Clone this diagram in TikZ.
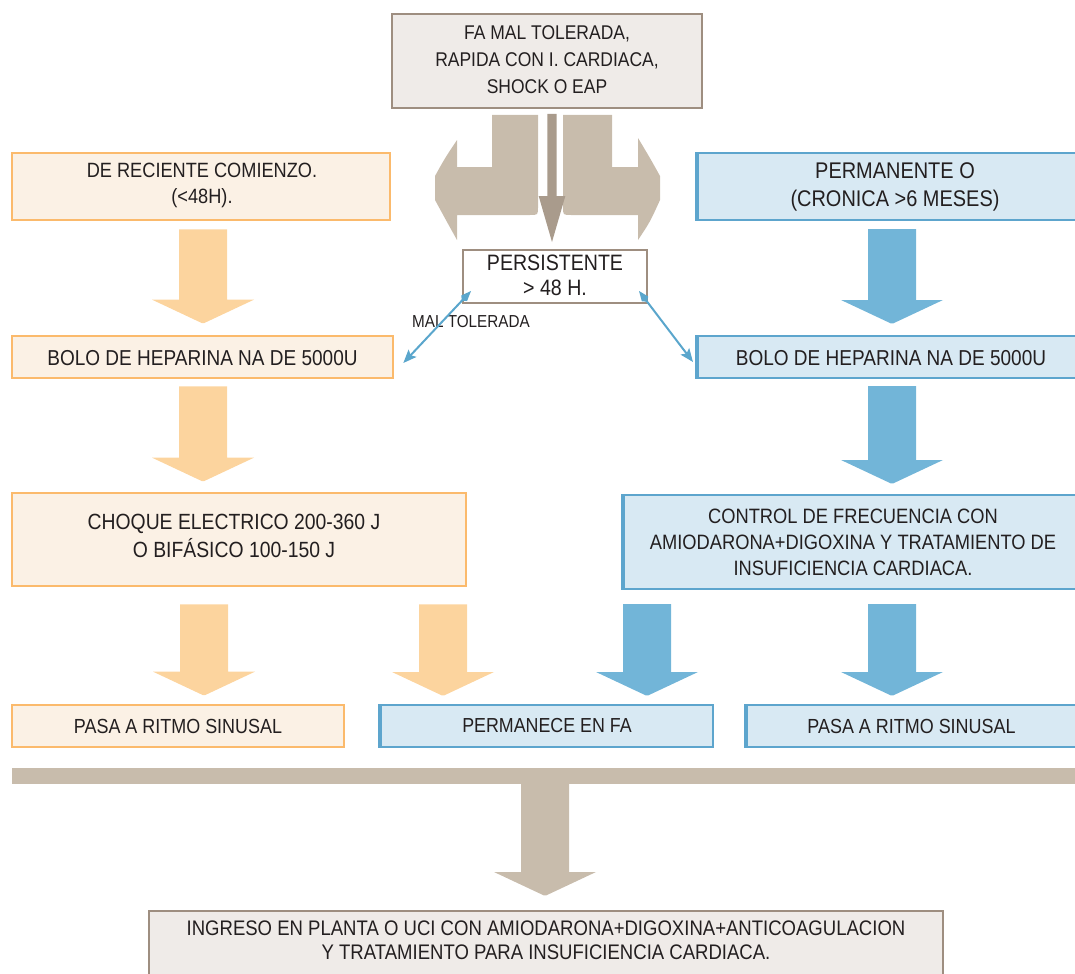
\documentclass[tikz,border=0pt]{standalone}
\usepackage{fontspec}
\setmainfont{Liberation Sans}[FakeStretch=0.88]
\usetikzlibrary{fit,calc,arrows.meta}

\definecolor{tanfill}{HTML}{EFEBE8}
\definecolor{tanline}{HTML}{9E8E80}
\definecolor{tanarrow}{HTML}{C8BCAC}
\definecolor{tandark}{HTML}{A99B8C}
\definecolor{orfill}{HTML}{FBF1E5}
\definecolor{orline}{HTML}{FBBA6C}
\definecolor{orarrow}{HTML}{FCD49E}
\definecolor{blfill}{HTML}{D8E9F3}
\definecolor{blline}{HTML}{5DA5CD}
\definecolor{blarrow}{HTML}{72B5D8}
\definecolor{thinblue}{HTML}{5AA6CC}
\definecolor{ink}{HTML}{231F20}

\newcommand\fs[2]{\fontsize{#1}{#2}\selectfont}

% Wide block arrow at x=#2 (px), from node anchor #3 down to node anchor #4,
% leaving gaps #5 (top) and #6 (tip).
\newcommand\bigarrow[6]{%
  \fill[#1] let \p0=(#2,0), \p1=(#3), \p2=(#4) in
    (\x0-18pt,\y1-#5) -- (\x0+18pt,\y1-#5) -- (\x0+18pt,\y2+#6+18pt)
    -- (\x0+38.25pt,\y2+#6+18pt) -- (\x0+1pt,\y2+#6+0.5pt) -- (\x0-1pt,\y2+#6+0.5pt)
    -- (\x0-38.25pt,\y2+#6+18pt) -- (\x0-18pt,\y2+#6+18pt) -- cycle;}

\begin{document}
\begin{tikzpicture}[x=0.75pt,y=-0.75pt,
  box/.style={inner sep=0pt},
  tanbox/.style={box, fill=tanfill, draw=tanline, line width=1.5pt},
  orbox/.style={box, fill=orfill, draw=orline, line width=2pt},
  blbox/.style={box, fill=blfill, draw=blline, line width=1.5pt},
  txt/.style={inner sep=0pt, align=center, text=ink},
  blleft/.style={draw=blline, line width=3pt},
  thinarrow/.style={draw=thinblue, line width=1.5pt,
    {Kite[length=10pt,width=6pt]}-{Stealth[length=10pt,width=8pt,inset=2pt]}}
]
\useasboundingbox (0,0) rectangle (1075,974);
\clip (0,0) rectangle (1075,974);

% ---- boxes ----
\node[tanbox, fit={(392,14) (702,108)}] (top) {};
\node[orbox, fit={(12,153) (390,220)}] (recent) {};
\node[blbox, fit={(698,153) (1092,220)}] (perm) {};
\node[box, fill=white, draw=tanline, line width=1.5pt, fit={(463,250) (647,303)}] (persist) {};
\node[orbox, fit={(12,336) (393,378)}] (boloL) {};
\node[blbox, fit={(698,336) (1084,378)}] (boloR) {};
\node[orbox, fit={(12,493) (466,586)}] (choque) {};
\node[blbox, fit={(624,495) (1082,589)}] (control) {};
\node[orbox, fit={(12,705) (344,747)}] (pasaL) {};
\node[blbox, fit={(381,705) (713,747)}] (permfa) {};
\node[blbox, fit={(747,705) (1076,747)}] (pasaR) {};
\node[box, fill=tanarrow, fit={(12,768) (1080,784)}] (bar) {};
\node[tanbox, fit={(149,911) (943,990)}] (final) {};

% heavier left edges of the blue boxes
\foreach \b in {perm,boloR,control,permfa,pasaR}
  \draw[blleft] (\b.north west) -- (\b.south west);

% ---- texts ----
\node[txt, font=\fs{14.9}{20.25}] (topT) at ($(top.center)+(0,-1)$)
  {FA MAL TOLERADA,\\RAPIDA CON I. CARDIACA,\\SHOCK O EAP};
\node[txt, font=\fs{15.5}{19.5}] (recentT) at ($(recent.center)+(1,-1)$)
  {DE RECIENTE COMIENZO.\\(<48H).};
\node[txt, font=\fs{17}{21}] (permT) at (perm.center)
  {PERMANENTE O\\(CRONICA >6 MESES)};
\node[txt, font=\fs{16.7}{18.75}] (persistT) at ($(persist.center)+(0,-1)$)
  {PERSISTENTE\\> 48 H.};
\node[txt, font=\fs{13}{15}] (maltol) at (471,322) {MAL TOLERADA};
\node[txt, font=\fs{16.2}{19}] (boloLT) at ($(boloL.center)+(0,1)$)
  {BOLO DE HEPARINA NA DE 5000U};
\node[txt, font=\fs{16.2}{19}] (boloRT) at ($(boloR.center)+(0,1)$)
  {BOLO DE HEPARINA NA DE 5000U};
\node[txt, font=\fs{16.5}{21}] (choqueT) at ($(choque.center)+(-5,-4)$)
  {CHOQUE ELECTRICO 200-360 J\\O BIFÁSICO 100-150 J};
\node[txt, font=\fs{15.6}{19.5}] (controlT) at (control.center)
  {CONTROL DE FRECUENCIA CON\\AMIODARONA+DIGOXINA Y TRATAMIENTO DE\\INSUFICIENCIA CARDIACA.};
\node[txt, font=\fs{15.3}{18}] (pasaLT) at (pasaL.center) {PASA A RITMO SINUSAL};
\node[txt, font=\fs{15.2}{18}] (permfaT) at (permfa.center) {PERMANECE EN FA};
\node[txt, font=\fs{15.3}{18}] (pasaRT) at (pasaR.center) {PASA A RITMO SINUSAL};
\node[txt, font=\fs{15.8}{18}] (finalT) at ($(final.north)+(0,30)$)
  {INGRESO EN PLANTA O UCI CON AMIODARONA+DIGOXINA+ANTICOAGULACION\\Y TRATAMIENTO PARA INSUFICIENCIA CARDIACA.};

% ---- split arrows under the top box ----
\fill[tanarrow] (492,115) -- (538,115) -- (538,207) .. controls (538,215) .. (530,215)
  -- (457,215) -- (457,240) .. controls (447,222) .. (435,200) -- (435,176)
  .. controls (445,158) .. (457,140) -- (457,167) -- (492,167) -- cycle;
\fill[tanarrow] (612,115) -- (563,115) -- (563,207) .. controls (563,215) .. (571,215)
  -- (638,215) -- (638,240) .. controls (650,222) .. (660,200) -- (660,176)
  .. controls (650,158) .. (638,138) -- (638,167) -- (612,167) -- cycle;

% central arrow to PERSISTENTE
\fill[tandark] let \p0=(552,0), \p1=(top.south), \p2=(persist.north) in
  (\x0-3.4pt,\y1-3.75pt) -- (\x0+3.4pt,\y1-3.75pt) -- (\x0+3.4pt,\y2+39.75pt)
  -- (\x0+10pt,\y2+39.75pt) -- (\x0,\y2+5.25pt) -- (\x0-10pt,\y2+39.75pt)
  -- (\x0-3.4pt,\y2+39.75pt) -- cycle;

% ---- thin arrows from PERSISTENTE ----
\draw[thinarrow] ($(persist.south west)+(9,-13)$) -- ($(boloL.east)+(9,6)$);
\draw[thinarrow] ($(persist.south east)+(-9,-13)$) -- ($(boloR.west)+(-4,5)$);

% ---- block arrows ----
\bigarrow{orarrow}{203}{recent.south}{boloL.north}{6pt}{8.25pt}
\bigarrow{orarrow}{203}{boloL.south}{choque.north}{5.25pt}{7.5pt}
\bigarrow{blarrow}{892}{perm.south}{boloR.north}{6pt}{8.25pt}
\bigarrow{blarrow}{892}{boloR.south}{control.north}{5.25pt}{7.5pt}
\bigarrow{orarrow}{204}{choque.south}{pasaL.north}{12.75pt}{6pt}
\bigarrow{orarrow}{443}{choque.south}{permfa.north}{12.75pt}{6pt}
\bigarrow{blarrow}{647}{control.south}{permfa.north}{10.5pt}{6pt}
\bigarrow{blarrow}{892}{control.south}{pasaR.north}{10.5pt}{6pt}
\bigarrow{tanarrow}{545}{bar.south}{final.north}{-1pt}{10.5pt}
\end{tikzpicture}
\end{document}
